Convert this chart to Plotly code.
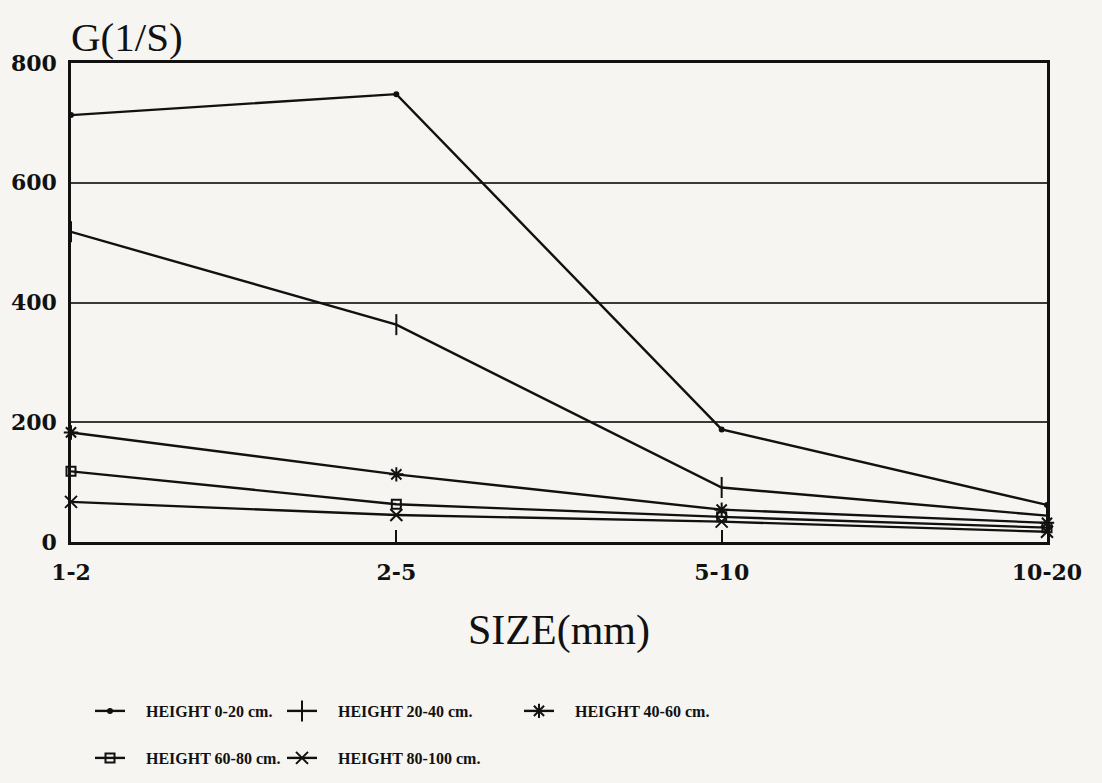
import plotly.graph_objects as go

# Particle size classes (mm) on the x axis
sizes = ["1-2", "2-5", "5-10", "10-20"]

# Velocity gradient G (1/s) for each bed-height band
g_0_20 = [713, 748, 188, 62]
g_20_40 = [518, 363, 91, 44]
g_40_60 = [183, 113, 54, 32]
g_60_80 = [118, 63, 42, 24]
g_80_100 = [67, 45, 34, 17]

series_names = [
    "HEIGHT 0-20 cm.",
    "HEIGHT 20-40 cm.",
    "HEIGHT 40-60 cm.",
    "HEIGHT 60-80 cm.",
    "HEIGHT 80-100 cm.",
]

y_ticks = [0, 200, 400, 600, 800]

series = [g_0_20, g_20_40, g_40_60, g_60_80, g_80_100]
symbols = ["circle", "line-ns-open", "asterisk-open", "square-open", "x-thin-open"]
marker_sizes = [4, 15, 12, 9, 12]
legend_ids = ["legend", "legend2", "legend3", "legend4", "legend5"]

INK = "#111111"
PAPER = "#f6f5f1"
PAD = "\u00a0" * 4

fig = go.Figure()
for vals, name, sym, msz, lg in zip(series, series_names, symbols, marker_sizes, legend_ids):
    fig.add_trace(go.Scatter(
        x=sizes, y=vals, name=PAD + name,
        mode="lines+markers",
        line=dict(color=INK, width=2.4),
        marker=dict(symbol=sym, size=msz, color=INK, line=dict(color=INK, width=2)),
        legend=lg,
        cliponaxis=False,
    ))

legend_font = dict(family="Liberation Serif", size=16, color=INK, weight="bold")
row1, row2 = 1 - 711 / 783, 1 - 758 / 783
legend_pos = {
    "legend": (90 / 1102, row1),
    "legend2": (282 / 1102, row1),
    "legend3": (519 / 1102, row1),
    "legend4": (90 / 1102, row2),
    "legend5": (282 / 1102, row2),
}
legend_layouts = {}
for key, (lx, ly) in legend_pos.items():
    legend_layouts[key] = dict(
        x=lx, y=ly, xref="container", yref="container",
        xanchor="left", yanchor="middle",
        bgcolor="rgba(0,0,0,0)", borderwidth=0,
        font=legend_font,
    )

fig.update_layout(
    width=1102, height=783,
    margin=dict(l=71, r=55, t=63, b=241, autoexpand=False),
    paper_bgcolor=PAPER, plot_bgcolor=PAPER,
    showlegend=True,
    **legend_layouts,
)

fig.update_xaxes(
    type="category", categoryorder="array", categoryarray=sizes,
    range=[0, 3],
    showgrid=False, zeroline=False,
    showline=True, linecolor=INK, linewidth=2.5, mirror=True,
    ticks="inside", ticklen=12, tickwidth=2, tickcolor=INK,
    tickfont=dict(family="DejaVu Serif", size=22, color=INK, weight="bold"),
    ticklabelstandoff=9, tickangle=0,
)
fig.update_yaxes(
    range=[0, 800], tickvals=y_ticks, ticktext=[str(v) for v in y_ticks],
    showgrid=True, gridcolor="#3a3a3a", gridwidth=2,
    zeroline=False,
    showline=True, linecolor=INK, linewidth=2.5, mirror=True,
    ticks="", ticklabelstandoff=7,
    tickfont=dict(family="DejaVu Serif", size=22, color=INK, weight="bold"),
)

fig.add_annotation(
    text="G(1/S)", xref="paper", yref="paper", x=0.0, y=1.0,
    xanchor="left", yanchor="middle", yshift=26, xshift=-2, showarrow=False,
    font=dict(family="Liberation Serif", size=41, color=INK),
)
fig.add_annotation(
    text="SIZE(mm)", xref="paper", yref="paper", x=0.5, y=0.0,
    xanchor="center", yanchor="middle", yshift=-88, showarrow=False,
    font=dict(family="Liberation Serif", size=42, color=INK),
)

fig.write_html("out.html")
